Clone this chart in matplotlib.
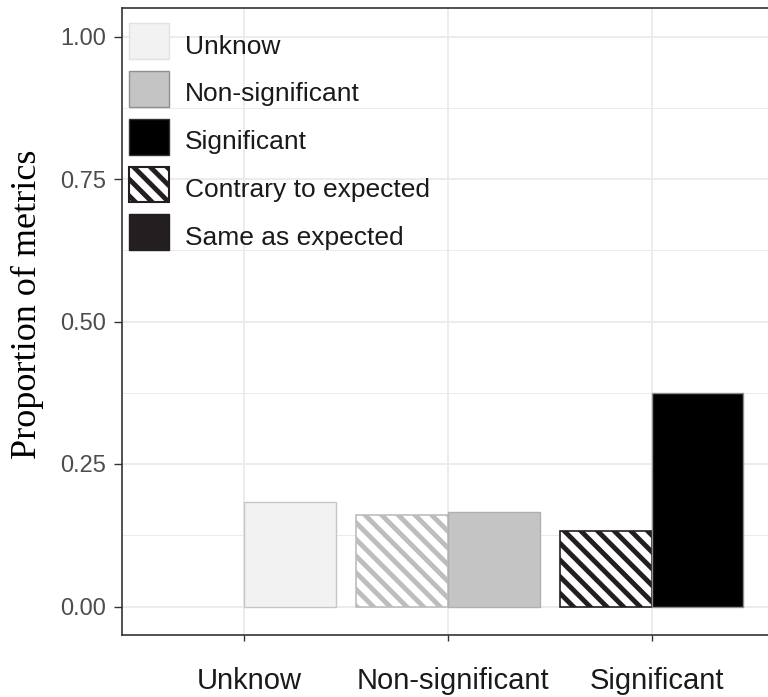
import matplotlib
matplotlib.use("Agg")
import matplotlib.pyplot as plt
import matplotlib.transforms as mtransforms
from matplotlib.patches import Patch
from matplotlib.ticker import MultipleLocator
import numpy as np

plt.rcParams['hatch.linewidth'] = 3.5
plt.rcParams['font.family'] = ['Liberation Sans', 'DejaVu Sans']

categories = ["Unknow", "Non-significant", "Significant"]
contrary = [0.0, 0.160, 0.133]
same = [0.183, 0.165, 0.374]

fill_colors = ['#F2F2F2', '#C4C4C4', '#000000']
same_edges = ['#C6C6C6', '#B0B0B0', '#8C8C8C']
contrary_hatch = ['#E0E0E0', '#BDBDBD', '#231F20']

legend_labels = ["Unknow", "Non-significant", "Significant",
                 "Contrary to expected", "Same as expected"]

W, H = 768, 697
fig = plt.figure(figsize=(W / 100, H / 100), dpi=100)
left, right, bottom, top = 121.5, 774, 635, 8
ax = fig.add_axes([left / W, (H - bottom) / H, (right - left) / W, (bottom - top) / H])

HATCH = '\\\\'

x = np.arange(1, len(categories) + 1)
bw = 0.45
for i in range(len(categories)):
    c = contrary[i]
    ax.bar(x[i] - bw / 2, c, width=bw, facecolor='white',
           edgecolor=contrary_hatch[i], hatch=HATCH,
           linewidth=1.2 if c > 0 else 0, zorder=3)
    ax.bar(x[i] + bw / 2, same[i], width=bw, facecolor=fill_colors[i],
           edgecolor=same_edges[i], linewidth=1.0, zorder=3)

ax.set_xlim(0.4, 3.6)
ax.set_ylim(-0.05, 1.05)
ax.set_xticks(x)
ax.set_xticklabels(categories, fontsize=21, color='#1A1A1A')
ax.yaxis.set_major_locator(MultipleLocator(0.25))
ax.yaxis.set_minor_locator(MultipleLocator(0.125))
ax.set_yticks([0, 0.25, 0.5, 0.75, 1.0])
ax.set_yticklabels(["0.00", "0.25", "0.50", "0.75", "1.00"], fontsize=17, color='#4D4D4D')
ax.tick_params(axis='y', which='major', length=6, width=1.0, color='#333333', pad=5)
ax.tick_params(axis='y', which='minor', length=0)
ax.tick_params(axis='x', which='major', length=4, width=1.0, color='#333333', pad=19)

shift = mtransforms.ScaledTranslation(5 / 100, 0, fig.dpi_scale_trans)
for lab in ax.get_xticklabels():
    lab.set_transform(lab.get_transform() + shift)

ax.set_axisbelow(True)
ax.grid(which='major', color='#EBEBEB', linewidth=1.3)
ax.grid(which='minor', axis='y', color='#EBEBEB', linewidth=0.7)
for s in ax.spines.values():
    s.set_color('#333333')
    s.set_linewidth(1.2)

ax.set_ylabel("Proportion of metrics", fontsize=26, family=['Liberation Serif', 'DejaVu Serif'],
              color='black')
ax.yaxis.set_label_coords((44 - left) / (right - left), (bottom - 304) / (bottom - top))

handles = [
    Patch(facecolor='#F2F2F2', edgecolor='#E2E2E2', linewidth=1.0),
    Patch(facecolor='#C4C4C4', edgecolor='#8F8F8F', linewidth=1.0),
    Patch(facecolor='#000000', edgecolor='#333333', linewidth=1.0),
    Patch(facecolor='white', edgecolor='#231F20', hatch=HATCH, linewidth=1.5),
    Patch(facecolor='#231F20', edgecolor='#231F20', linewidth=1.0),
]
fs = 19
leg = ax.legend(handles, legend_labels, loc='upper left',
                bbox_to_anchor=(129 / W, 1 - 23 / H), bbox_transform=fig.transFigure,
                frameon=False, fontsize=fs, borderpad=0, borderaxespad=0,
                handlelength=1.52, handleheight=1.72, handletextpad=0.6,
                labelspacing=0.45, labelcolor='#1A1A1A')
for t in leg.get_texts():
    t.set_y(-4)

fig.savefig("out.png", dpi=100)
